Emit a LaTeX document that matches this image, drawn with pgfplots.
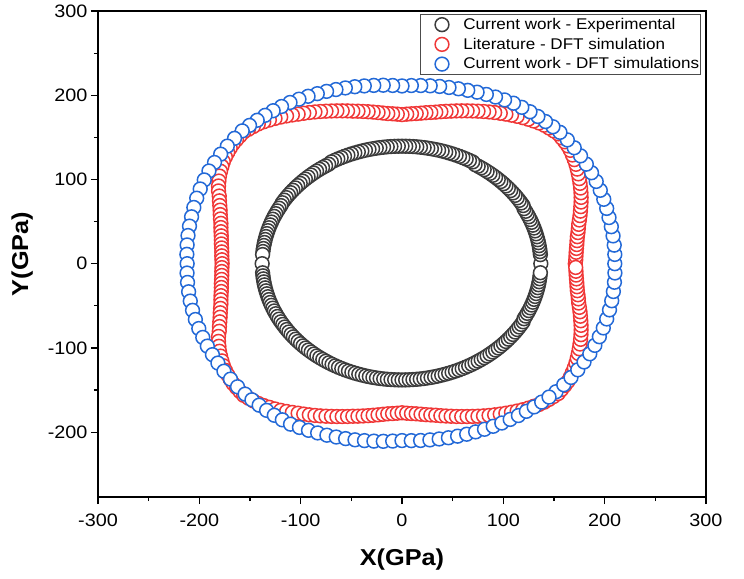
\documentclass[border=0pt]{standalone}
\usepackage{fontspec}
\setmainfont{Liberation Sans}[FakeStretch=1.1]
\usepackage{pgfplots}
\pgfplotsset{compat=1.18}
\definecolor{cblk}{RGB}{60,60,60}
\definecolor{cred}{RGB}{240,55,55}
\definecolor{cblu}{RGB}{35,105,215}
\begin{document}
\begin{tikzpicture}
\useasboundingbox (-98bp,-82bp) rectangle (646bp,497bp);
\begin{axis}[
  at={(0,0)}, anchor=south west,
  scale only axis, width=608bp, height=486bp,
  xmin=-300, xmax=300, ymin=-277, ymax=300,
  xtick={-300,-200,...,300}, ytick={-200,-100,...,300},
  minor x tick num=1, minor y tick num=1,
  tick pos=left, tick align=outside,
  major tick length=7bp, minor tick length=4bp,
  tick style={black, line width=1.2bp},
  axis line style={line width=1.4bp},
  /pgf/number format/assume math mode=true,
  ticklabel style={font=\fontsize{18bp}{20bp}\selectfont},
  xticklabel style={yshift=-6bp},
  xlabel={\textbf{X(GPa)}}, ylabel={\textbf{Y(GPa)}},
  label style={font=\fontsize{23bp}{26bp}\selectfont},
  xlabel style={yshift=-16bp},
  ylabel style={yshift=8bp},
  legend style={at={(rel axis cs:1,1)}, anchor=north east, xshift=-5bp, yshift=-3bp,
    draw=black!70, line width=0.6bp, font=\fontsize{15.5bp}{18bp}\selectfont,
    nodes={inner xsep=1bp, inner ysep=2bp}, row sep=3bp, inner xsep=0.5bp, inner ysep=2bp},
  legend cell align=left,
  legend image code/.code={\path (0bp,0bp) (40.5bp,0bp); \draw[#1] plot coordinates {(20.5bp,0bp)};},
  only marks,
  every axis plot/.append style={mark=*, mark size=6.9bp},
]
\addplot[draw=cblk, mark options={fill=white, line width=1.5bp, draw=cblk}, data cs=polar] coordinates {
(0,137) (4.5,137) (6,137) (7.5,137) (9,137) (10.5,137) (12,137) (13.5,137) (15,137) (16.5,137) (18,137) (19.5,137) (21,137) (22.5,137) (24,137) (25.5,137) (27,137) (28.5,137)
(30,138) (31.5,138) (33,138) (34.5,138) (36,138) (37.5,138) (39,138) (40.5,138) (42,138) (43.5,138) (45,138) (46.5,138) (48,138) (49.5,138) (51,138) (52.5,138) (54,138) (55.5,138) (57,138) (58.5,138)
(60,139.5) (61.5,139.5) (63,139.5) (64.5,139.5) (66,139.5) (67.5,139.5) (69,139.5) (70.5,139.5) (72,139.5) (73.5,139.5) (75,139.5) (76.5,139.5) (78,139.5) (79.5,139.5) (81,139.5) (82.5,139.5) (84,139.5) (85.5,139.5) (87,139.5) (88.5,139.5) (90,139.5) (91.5,139.5) (93,139.5) (94.5,139.5) (96,139.5) (97.5,139.5) (99,139.5) (100.5,139.5) (102,139.5) (103.5,139.5) (105,139.5) (106.5,139.5) (108,139.5) (109.5,139.5) (111,139.5) (112.5,139.5) (114,139.5) (115.5,139.5) (117,139.5) (118.5,139.5) (120,139.5)
(121.5,138.5) (123,138.5) (124.5,138.5) (126,138.5) (127.5,138.5) (129,138.5) (130.5,138.5) (132,138.5) (133.5,138.5) (135,138.5) (136.5,138.5) (138,138.5) (139.5,138.5) (141,138.5) (142.5,138.5) (144,138.5) (145.5,138.5) (147,138.5) (148.5,138.5)
(150,138) (151.5,138) (153,138) (154.5,138) (156,138) (157.5,138) (159,138) (160.5,138) (162,138) (163.5,138) (165,138) (166.5,138) (168,138) (169.5,138) (171,138) (172.5,138) (174,138) (175.5,138) (180,138)
(184.5,138) (186,138) (187.5,138) (189,138) (190.5,138) (192,138) (193.5,138) (195,138) (196.5,138) (198,138) (199.5,138) (201,138) (202.5,138) (204,138) (205.5,138) (207,138) (208.5,138) (210,138) (211.5,138) (213,138) (214.5,138) (216,138) (217.5,138) (219,138) (220.5,138) (222,138) (223.5,138) (225,138) (226.5,138) (228,138) (229.5,138) (231,138) (232.5,138) (234,138) (235.5,138) (237,138) (238.5,138) (240,138) (241.5,138) (243,138) (244.5,138) (246,138) (247.5,138) (249,138) (250.5,138) (252,138) (253.5,138) (255,138) (256.5,138) (258,138) (259.5,138) (261,138) (262.5,138) (264,138) (265.5,138) (267,138) (268.5,138) (270,138) (271.5,138) (273,138) (274.5,138) (276,138) (277.5,138) (279,138) (280.5,138) (282,138) (283.5,138) (285,138) (286.5,138) (288,138) (289.5,138) (291,138) (292.5,138) (294,138) (295.5,138) (297,138) (298.5,138) (300,138) (301.5,138) (303,138) (304.5,138) (306,138) (307.5,138) (309,138) (310.5,138) (312,138) (313.5,138) (315,138) (316.5,138) (318,138) (319.5,138) (321,138) (322.5,138) (324,138) (325.5,138) (327,138) (328.5,138) (330,138)
(331.5,137) (333,137) (334.5,137) (336,137) (337.5,137) (339,137) (340.5,137) (342,137) (343.5,137) (345,137) (346.5,137) (348,137) (349.5,137) (351,137) (352.5,137) (354,137) (355.5,137)
};
\addlegendentry{Current work - Experimental}
\addplot[draw=cred, mark options={fill=white, line width=1.5bp, draw=cred}, data cs=polar] coordinates {
(0,171) (1.5,171.5) (3,171.9) (4.5,172.4) (6,173.1) (7.5,174) (9,174.9) (10.5,176) (12,177.5) (13.5,179) (15,180.5) (16.5,182.6) (18,184.7) (19.5,186.8) (21,189) (22.5,191.3) (24,193.5) (25.5,195.7) (27,197.8) (28.5,199.9) (30,202) (31.5,204.1) (33,206.2) (34.5,208.3) (36,210.2) (37.5,212) (39,213.8) (40.5,215.3) (42,216.2) (43.5,217.1) (45,218) (46.5,217.4) (48,216.8) (49.5,216.2) (51,215) (52.5,213.5) (54,212) (55.5,210.4) (57,208.6) (58.5,206.8) (60,205) (61.5,203.2) (63,201.4) (64.5,199.6) (66,197.8) (67.5,196) (69,194.2) (70.5,192.5) (72,190.8) (73.5,189.2) (75,187.5) (76.5,186) (78,184.5) (79.5,183) (81,181.8) (82.5,180.8) (84,179.7) (85.5,178.8) (87,178.2) (88.5,177.6) (90,177)
(91.5,177.6) (93,178.2) (94.5,178.8) (96,179.8) (97.5,181) (99,182.2) (100.5,183.5) (102,184.8) (103.5,186.2) (105,187.5) (106.5,189.2) (108,190.8) (109.5,192.5) (111,194.2) (112.5,196) (114,197.8) (115.5,199.6) (117,201.4) (118.5,203.2) (120,205) (121.5,207.1) (123,209.2) (124.5,211.3) (126,213.2) (127.5,215) (129,216.8) (130.5,218.3) (132,219.2) (133.5,220.1) (135,221) (136.5,220.4) (138,219.8) (139.5,219.2) (141,218.1) (142.5,216.8) (144,215.4) (145.5,213.9) (147,211.9) (148.5,210) (150,208) (151.5,205.6) (153,203.2) (154.5,200.6) (156,197.4) (157.5,195) (159,192.6) (160.5,190.4) (162,188.6) (163.5,186.8) (165,185) (166.5,183.8) (168,182.6) (169.5,181.4) (171,180.5) (172.5,179.8) (174,179) (175.5,178.4) (177,178.1) (178.5,177.8) (180,177.5)
(181.5,177.8) (183,178.1) (184.5,178.4) (186,179) (187.5,179.8) (189,180.5) (190.5,181.4) (192,182.6) (193.5,183.8) (195,185) (196.5,186.8) (198,188.6) (199.5,190.4) (201,192.6) (202.5,195) (204,197.4) (205.5,200.6) (207,203.2) (208.5,205.6) (210,208) (211.5,210) (213,211.9) (214.5,213.9) (216,215.4) (217.5,216.8) (219,218.1) (220.5,219.2) (222,219.8) (223.5,220.4) (225,221) (226.5,220.1) (228,219.2) (229.5,218.3) (231,216.8) (232.5,215) (234,213.2) (235.5,211.3) (237,209.2) (238.5,207.1) (240,205) (241.5,203.2) (243,201.4) (244.5,199.6) (246,197.8) (247.5,196) (249,194.2) (250.5,192.5) (252,190.8) (253.5,189.2) (255,187.5) (256.5,186.2) (258,184.8) (259.5,183.5) (261,182.2) (262.5,181) (264,179.8) (265.5,178.8) (267,178.2) (268.5,177.6)
(270,177) (271.5,177.6) (273,178.2) (274.5,178.8) (276,179.7) (277.5,180.8) (279,181.8) (280.5,183) (282,184.5) (283.5,186) (285,187.5) (286.5,189.2) (288,190.8) (289.5,192.5) (291,194.2) (292.5,196) (294,197.8) (295.5,199.6) (297,201.4) (298.5,203.2) (300,205) (301.5,206.8) (303,208.6) (304.5,210.4) (306,212) (307.5,213.5) (309,215) (310.5,216.2) (312,216.8) (313.5,217.4) (315,218) (316.5,217.1) (318,216.2) (319.5,215.3) (321,213.8) (322.5,212) (324,210.2) (325.5,208.3) (327,206.2) (328.5,204.1) (330,202) (331.5,199.9) (333,197.8) (334.5,195.7) (336,193.5) (337.5,191.3) (339,189) (340.5,186.8) (342,184.7) (343.5,182.6) (345,180.5) (346.5,179) (348,177.5) (349.5,176) (351,174.9) (352.5,174) (354,173.1) (355.5,172.4) (357,171.9) (358.5,171.5)
};
\addlegendentry{Literature - DFT simulation}
\addplot[draw=cblu, mark options={fill=white, line width=1.5bp, draw=cblu}, data cs=polar] coordinates {
(315,215) (318,214.8) (321,214.6) (324,214.4) (327,214.2) (330,214) (333,213.6) (336,213.2) (339,212.8) (342,212.4) (345,212) (348,211.6) (351,211.2) (354,210.8) (357,210.4) (0,210) (3,210.3) (6,210.6) (9,210.9) (12,211.2) (15,211.5) (18,212.4) (21,213.3) (24,214.2) (27,215.1) (30,216) (33,216.9) (36,217.8) (39,218.7) (42,219.6)
(45,220.5) (47.5,220.5) (50,220.3) (52.5,220.3) (55,220.2) (57.5,220.1) (60,220) (62.5,219.2) (65,218.3) (67.5,217.5) (70,216.7) (72.5,215.8) (75,215) (77.5,214.3) (80,213.7) (82.5,213) (85,212.3) (87.5,211.7) (90,211) (92.5,211.8) (95,212.7) (97.5,213.5) (100,214.3) (102.5,215.2) (105,216) (107.5,216.8) (110,217.7) (112.5,218.5) (115,219.3) (117.5,220.2) (120,221) (122.5,221.3) (125,221.7) (127.5,222) (130,222.3) (132.5,222.7)
(135,223) (138,222.4) (141,221.8) (144,221.2) (147,220.6) (150,220) (153,219) (156,218) (159,217) (162,216) (165,215) (168,214.4) (171,213.8) (174,213.2) (177,212.6) (180,212) (183,212.4) (186,212.8) (189,213.2) (192,213.6) (195,214) (198,214.4) (201,214.8) (204,215.2) (207,215.6) (210,216) (213,216.6) (216,217.2) (219,217.8) (222,218.4)
(225,219) (227.5,219.2) (230,219.3) (232.5,219.5) (235,219.7) (237.5,219.8) (240,220) (242.5,219.2) (245,218.3) (247.5,217.5) (250,216.7) (252.5,215.8) (255,215) (257.5,214.2) (260,213.3) (262.5,212.5) (265,211.7) (267.5,210.8) (270,210) (272.5,210.3) (275,210.7) (277.5,211) (280,211.3) (282.5,211.7) (285,212) (287.5,212.3) (290,212.5) (292.5,212.8) (295,213) (297.5,213.3) (300,213.5) (302.5,213.8) (305,214) (307.5,214.3) (310,214.5) (312.5,214.8)
};
\addlegendentry{Current work - DFT simulations}
\end{axis}
\end{tikzpicture}
\end{document}
